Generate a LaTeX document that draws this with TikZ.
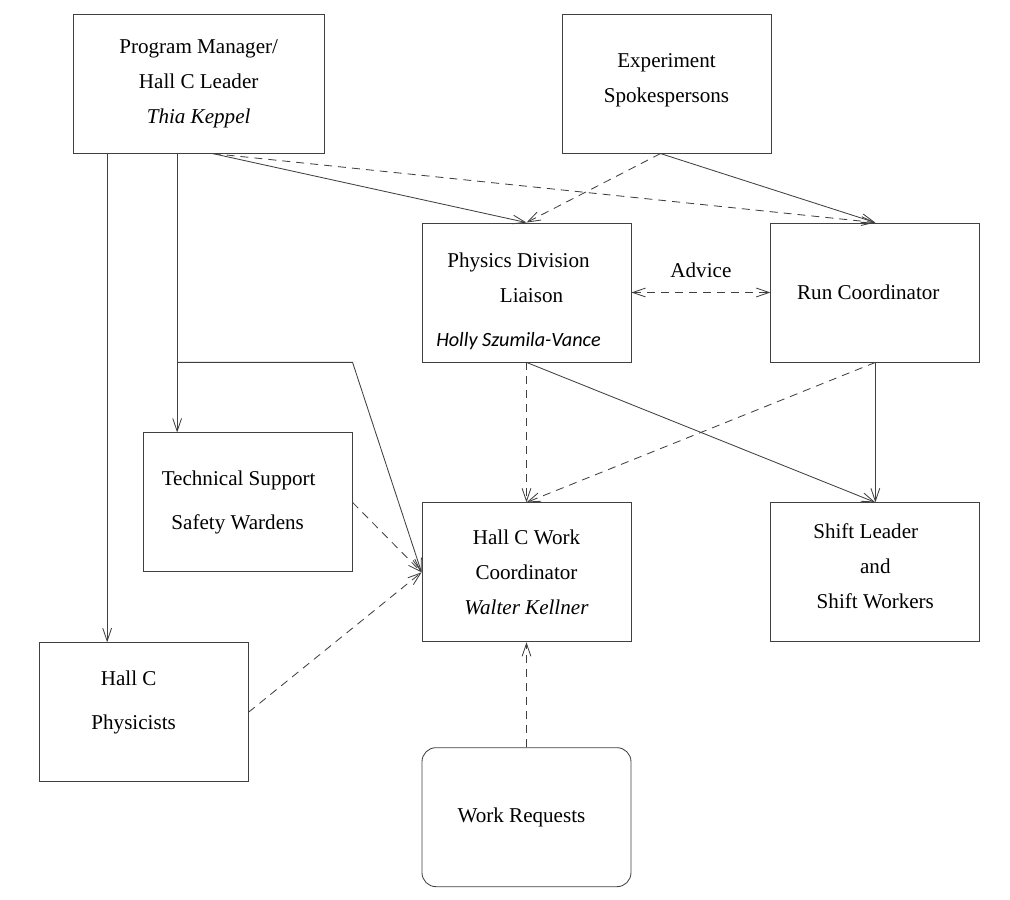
\documentclass[tikz,border=0pt]{standalone}
\usepackage{fontspec}
\setmainfont{Liberation Serif}
\newfontfamily\hollyfont{Carlito}
\usepackage{tikz}
\usetikzlibrary{arrows.meta,positioning}

\begin{document}
\begin{tikzpicture}[>={Straight Barb[length=3.2mm,width=2.2mm]},
        box/.style={draw=black!75, line width=0.6pt, rectangle, minimum width=5.225cm, minimum height=3.475cm, align=center, inner sep=0pt, font=\fontsize{15}{25}\selectfont},
        link/.style={->, line width=0.6pt, draw=black!75},
        dlink/.style={link, dash pattern=on 0.2cm off 0.15cm}]
        \tikzstyle{wide} = [minimum width=6.275cm]
        \useasboundingbox (-13.1625,7.3125) rectangle (12.0875,-15.1875);
        \node[box] (pd) at (0,0) {\rule{0pt}{23pt}Physics Division\hspace*{0.4cm}\\ \hspace*{0.25cm}Liaison\\[6pt] {\hollyfont\itshape\fontsize{14.4}{20}\selectfont Holly Szumila-Vance\hspace*{0.4cm}}};
        \node[box, right = 3.475cm of pd] (rc) {Run Coordinator\hspace*{0.35cm}};
        \node[box, below = 3.5cm of pd] (wc) {Hall C Work\\ Coordinator\\ \textit{Walter Kellner}};
        \node[box, below = 3.5cm of rc] (sl) {Shift Leader\hspace*{0.48cm}\\ and\hspace*{0.58cm}\\ Shift Workers\rule[-9pt]{0pt}{1pt}};
        \node[box, below = 2.625cm of wc, rounded corners=0.35cm] (wr) {Work Requests\hspace*{0.25cm}};
        \node[box, wide, above left = 1.725cm and 2.425cm of pd] (pm) {Program Manager/\\ Hall C Leader\\ \textit{Thia Keppel}};
        \node[box, above = 1.725cm of pd, xshift=3.5cm] (es) {Experiment\\ Spokespersons\rule[-7.5pt]{0pt}{1pt}};
        \node[box, above left = 0cm and 1.725cm of wc.west] (ts) {Technical Support\hspace*{0.45cm}\\[6pt] Safety Wardens\hspace*{0.5cm}};
        \node[box, below left = 0cm and 4.325cm of wc.south west] (hp) {Hall C\hspace*{0.75cm}\\[6pt] Physicists\hspace*{0.5cm}\rule[-17pt]{0pt}{1pt}};

        \coordinate (pmleft) at ([xshift=-2.2875cm]pm.south);
        \coordinate (pmmid) at ([xshift=-0.5375cm]pm.south);
        \coordinate (pmout) at ([xshift=0.35cm]pm.south);
        \coordinate (esout) at ([xshift=-0.15cm]es.south);
        \coordinate (bend) at (ts.east |- pd.south);

        \draw [link] (pmleft) -- (pmleft |- hp.north);
        \draw [link] (pmmid) -- (pmmid |- ts.north);
        \draw [link] (pmmid |- pd.south) -- (bend) -- (wc.west);
        \draw [link] (pmout) -- (pd.north);
        \draw [dlink] (pmout) -- (rc.north);
        \draw [dlink] (esout) -- (pd.north);
        \draw [link] (esout) -- (rc.north);
        \draw [dlink, <->] (pd.east) -- node[above = 0.25cm, font=\fontsize{15}{18}\selectfont] (adv) {Advice} (rc.west);
        \draw [dlink] (pd.south) -- (wc.north);
        \draw [link] (pd.south) -- (sl.north);
        \draw [dlink] (rc.south) -- (wc.north);
        \draw [link] (rc.south) -- (sl.north);
        \draw [dlink] (ts.east) -- (wc.west);
        \draw [dlink] (hp.east) -- (wc.west);
        \draw [dlink] (wr.north) -- (wc.south);
\end{tikzpicture}
\end{document}
